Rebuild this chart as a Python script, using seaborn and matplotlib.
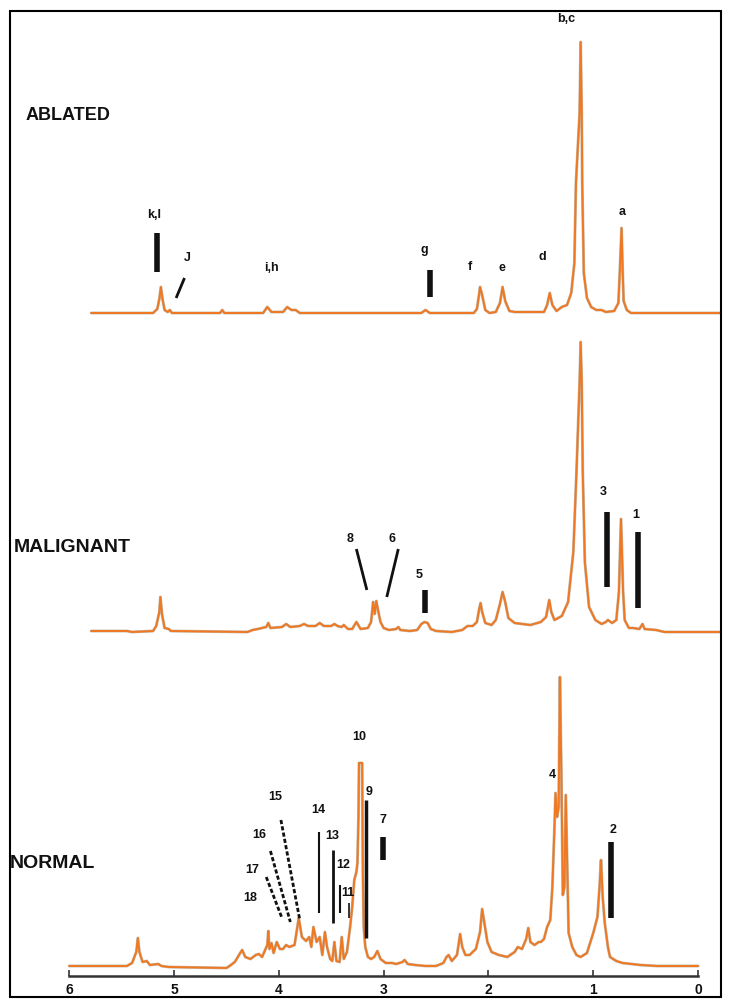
import numpy as np
import pandas as pd
import matplotlib
matplotlib.use("Agg")
import matplotlib.pyplot as plt
from matplotlib.patches import Rectangle
import seaborn as sns

# Spectra: chemical shift (ppm) and intensity above baseline
ablated_ppm = [5.79, 5.20, 5.16, 5.14, 5.125, 5.11, 5.09, 5.06, 5.04, 5.02,
               4.56, 4.54, 4.52, 4.15, 4.11, 4.07, 3.96, 3.92, 3.88, 3.84, 3.80,
               2.64, 2.60, 2.56, 2.14, 2.11, 2.09, 2.08, 2.06, 2.03, 1.99,
               1.93, 1.89, 1.865, 1.84, 1.80, 1.75, 1.47, 1.44, 1.415, 1.39, 1.35,
               1.30, 1.25, 1.21, 1.18, 1.165, 1.13, 1.12, 1.11, 1.105, 1.09, 1.06,
               1.02, 0.97, 0.92, 0.88, 0.80, 0.76, 0.745, 0.73, 0.72, 0.71, 0.68,
               0.64, -0.22]
ablated_int = [0, 0, 4, 14, 26, 14, 3, 1, 3, 0,
               0, 3, 0, 0, 6, 1, 1, 6, 3, 3, 0,
               0, 3, 0, 0, 4, 18, 26, 18, 3, 0,
               1, 10, 26, 12, 2, 1, 1, 8, 20, 8, 2,
               6, 8, 20, 50, 130, 200, 271, 200, 130, 40, 15,
               6, 3, 3, 1, 2, 10, 45, 85, 45, 12, 3,
               0, 0]

malignant_ppm = [5.79, 5.45, 5.40, 5.20, 5.17, 5.14, 5.13, 5.115, 5.09, 5.05,
                 5.03, 4.30, 4.25, 4.20, 4.12, 4.10, 4.08, 3.97, 3.93, 3.89,
                 3.80, 3.76, 3.72, 3.65, 3.61, 3.57, 3.50, 3.47, 3.44, 3.40,
                 3.38, 3.34, 3.30, 3.26, 3.22, 3.15, 3.12, 3.10, 3.085, 3.07,
                 3.05, 3.03, 3.00, 2.95, 2.88, 2.86, 2.84, 2.75, 2.68, 2.64,
                 2.61, 2.58, 2.55, 2.50, 2.35, 2.25, 2.20, 2.15, 2.11, 2.09,
                 2.075, 2.06, 2.03, 1.97, 1.93, 1.89, 1.865, 1.84, 1.81, 1.75,
                 1.60, 1.50, 1.45, 1.42, 1.40, 1.37, 1.30, 1.24, 1.19, 1.16,
                 1.13, 1.12, 1.11, 1.10, 1.08, 1.04, 0.98, 0.92, 0.88, 0.86,
                 0.82, 0.78, 0.755, 0.735, 0.715, 0.70, 0.66, 0.62, 0.56, 0.53,
                 0.51, 0.40, 0.32, -0.22]
malignant_int = [1, 1, 0, 1, 6, 20, 35, 18, 4, 3,
                 1, 0, 2, 3, 5, 9, 4, 5, 8, 5,
                 6, 8, 6, 6, 9, 6, 6, 8, 6, 5,
                 7, 3, 3, 10, 3, 4, 10, 30, 18, 31,
                 20, 10, 4, 2, 3, 5, 2, 1, 2, 8,
                 10, 9, 3, 1, 0, 2, 6, 6, 10, 22,
                 29, 20, 9, 7, 12, 28, 40, 30, 14, 9,
                 7, 10, 15, 32, 20, 12, 16, 30, 80, 160,
                 250, 290, 250, 160, 70, 25, 12, 8, 10, 12,
                 9, 12, 40, 113, 40, 12, 4, 4, 3, 8,
                 3, 2, 0, 0]

normal_ppm = [6.00, 5.60, 5.45, 5.40, 5.36, 5.345, 5.33, 5.30, 5.26, 5.23,
              5.15, 5.12, 5.05, 4.50, 4.47, 4.42, 4.38, 4.35, 4.32, 4.27,
              4.22, 4.19, 4.16, 4.11, 4.10, 4.09, 4.07, 4.05, 4.02, 3.99,
              3.96, 3.93, 3.90, 3.85, 3.81, 3.78, 3.74, 3.71, 3.69, 3.67,
              3.64, 3.61, 3.585, 3.56, 3.54, 3.51, 3.49, 3.47, 3.45, 3.42,
              3.40, 3.38, 3.35, 3.32, 3.30, 3.28, 3.26, 3.25, 3.24, 3.235,
              3.205, 3.198, 3.19, 3.175, 3.15, 3.12, 3.09, 3.06, 3.03, 2.98,
              2.92, 2.88, 2.82, 2.80, 2.77, 2.70, 2.60, 2.50, 2.43, 2.40,
              2.38, 2.35, 2.30, 2.27, 2.25, 2.22, 2.18, 2.12, 2.08, 2.06,
              2.04, 2.01, 1.97, 1.90, 1.82, 1.75, 1.72, 1.68, 1.64, 1.62,
              1.60, 1.56, 1.52, 1.50, 1.47, 1.44, 1.41, 1.39, 1.37, 1.36,
              1.345, 1.33, 1.318, 1.305, 1.29, 1.275, 1.262, 1.25, 1.235, 1.20,
              1.16, 1.12, 1.06, 1.00, 0.96, 0.94, 0.926, 0.91, 0.89, 0.86,
              0.84, 0.78, 0.72, 0.55, 0.39, 0.00]
normal_int = [1, 1, 1, 4, 15, 29, 15, 5, 6, 2,
              3, 1, 0, -1, 1, 5, 12, 17, 10, 8,
              12, 13, 10, 22, 36, 18, 24, 14, 25, 18,
              18, 22, 20, 22, 49, 30, 26, 30, 20, 40,
              25, 30, 12, 35, 20, 8, 6, 25, 6, 5,
              30, 8, 15, 40, 60, 87, 95, 104, 150, 204,
              204, 93, 40, 20, 10, 8, 10, 16, 8, 4,
              4, 3, 5, 7, 3, 2, 1, 1, 4, 10,
              12, 6, 12, 33, 20, 12, 12, 18, 35, 58,
              45, 25, 15, 12, 10, 15, 20, 18, 28, 39,
              25, 22, 25, 25, 28, 40, 47, 80, 140, 174,
              150, 160, 290, 200, 72, 80, 172, 110, 34, 20,
              12, 10, 14, 34, 50, 80, 107, 70, 44, 20,
              10, 6, 4, 2, 1, 1]

samples = ["ABLATED", "MALIGNANT", "NORMAL"]
baselines = {"ABLATED": 663, "MALIGNANT": 344, "NORMAL": 9}
name_pos = {"ABLATED": (6.42, 198, 13), "MALIGNANT": (6.53, 85, 14), "NORMAL": (6.565, 103, 14)}

# peak labels: (sample, text, ppm, height above baseline)
peak_labels = [
    ("ABLATED", "k,l", 5.19, 98), ("ABLATED", "J", 4.87, 55), ("ABLATED", "i,h", 4.07, 45),
    ("ABLATED", "g", 2.61, 63), ("ABLATED", "f", 2.18, 46), ("ABLATED", "e", 1.87, 45),
    ("ABLATED", "d", 1.49, 56), ("ABLATED", "b,c", 1.26, 294), ("ABLATED", "a", 0.72, 101),
    ("MALIGNANT", "8", 3.32, 93), ("MALIGNANT", "6", 2.92, 93), ("MALIGNANT", "5", 2.66, 57),
    ("MALIGNANT", "3", 0.90, 140), ("MALIGNANT", "1", 0.59, 117),
    ("NORMAL", "10", 3.23, 230), ("NORMAL", "9", 3.14, 175), ("NORMAL", "7", 3.01, 147),
    ("NORMAL", "2", 0.81, 137), ("NORMAL", "4", 1.39, 192), ("NORMAL", "14", 3.62, 157),
    ("NORMAL", "13", 3.49, 131), ("NORMAL", "12", 3.39, 102), ("NORMAL", "11", 3.34, 74),
    ("NORMAL", "15", 4.03, 170), ("NORMAL", "16", 4.19, 132), ("NORMAL", "17", 4.25, 97),
    ("NORMAL", "18", 4.27, 69),
]

# marker strokes: (sample, ppm0, h0, ppm1, h1, width, style)
dash = (0, (1.5, 0.8))
marks = [
    ("ABLATED", 5.16, 80, 5.16, 41, 4, "-"), ("ABLATED", 4.90, 35, 4.98, 15, 2, "-"),
    ("ABLATED", 2.56, 43, 2.56, 16, 4, "-"),
    ("MALIGNANT", 3.26, 83, 3.16, 42, 2, "-"), ("MALIGNANT", 2.86, 83, 2.97, 35, 2, "-"),
    ("MALIGNANT", 2.61, 42, 2.61, 19, 4, "-"), ("MALIGNANT", 0.87, 120, 0.87, 45, 4, "-"),
    ("MALIGNANT", 0.57, 100, 0.57, 24, 4, "-"),
    ("NORMAL", 3.17, 167, 3.17, 29, 2.5, "-"), ("NORMAL", 3.01, 130, 3.01, 107, 4, "-"),
    ("NORMAL", 0.83, 125, 0.83, 49, 4, "-"), ("NORMAL", 3.62, 135, 3.62, 54, 1.5, "-"),
    ("NORMAL", 3.48, 117, 3.48, 44, 2, "-"), ("NORMAL", 3.42, 82, 3.42, 54, 1.5, "-"),
    ("NORMAL", 3.33, 64, 3.33, 49, 1.2, "-"),
    ("NORMAL", 3.98, 147, 3.80, 47, 2, dash),
    ("NORMAL", 4.08, 116, 3.89, 45, 2, dash),
    ("NORMAL", 4.12, 90, 3.97, 49, 2, dash),
]

ppm_ticks = [0, 1, 2, 3, 4, 5, 6]

# long-form table for seaborn
frames = []
for name, ppm, inten in [("ABLATED", ablated_ppm, ablated_int),
                         ("MALIGNANT", malignant_ppm, malignant_int),
                         ("NORMAL", normal_ppm, normal_int)]:
    d = pd.DataFrame({"ppm": ppm, "intensity": inten})
    d["sample"] = name
    d["y"] = d["intensity"] + baselines[name]
    frames.append(d)
df = pd.concat(frames, ignore_index=True)

sns.set_theme(style="white")
plt.rcParams["font.family"] = ["Liberation Sans", "DejaVu Sans"]

W, H = 732, 1008
fig = plt.figure(figsize=(W / 100, H / 100), dpi=100)
ax = fig.add_axes([10 / W, 32 / H, 711 / W, 965 / H])

sns.lineplot(data=df, x="ppm", y="y", units="sample", estimator=None, sort=False,
             color="#9a8466", lw=2.1, alpha=0.55, ax=ax)
sns.lineplot(data=df, x="ppm", y="y", units="sample", estimator=None, sort=False,
             color="#EF7822", lw=1.4, ax=ax)

for s, p0, h0, p1, h1, w, ls in marks:
    b = baselines[s]
    ax.plot([p0, p1], [b + h0, b + h1], color="#111111", lw=w, ls=ls,
            solid_capstyle="butt")

for s, txt, p, h in peak_labels:
    ax.text(p, baselines[s] + h, txt, ha="center", va="center",
            fontsize=9, fontweight="bold", color="#111111")

for s in samples:
    p, h, fs = name_pos[s]
    ax.text(p, baselines[s] + h, s, ha="left", va="center",
            fontsize=fs, fontweight="bold", color="#111111")

ax.set_xlim(6.565, -0.219)
ax.set_ylim(0, 965)
ax.set_xticks(ppm_ticks)
ax.set_xticklabels([str(t) for t in ppm_ticks], fontweight="bold")
ax.set_yticks([])
ax.set_xlabel("")
ax.set_ylabel("")
for side in ["top", "left", "right"]:
    ax.spines[side].set_visible(False)
ax.spines["bottom"].set_bounds(0, 6)
ax.spines["bottom"].set_color("#333333")
ax.spines["bottom"].set_linewidth(1.8)
ax.tick_params(axis="x", direction="in", length=4, width=1.2, color="#333333",
               pad=5, labelsize=10, labelcolor="#111111", bottom=True)
ax.patch.set_alpha(0)

# outer frame
fig.add_artist(Rectangle((10 / W, 11 / H), 711 / W, 986 / H, transform=fig.transFigure,
                         fill=False, ec="black", lw=1.5))

fig.savefig("out.png", dpi=100)
